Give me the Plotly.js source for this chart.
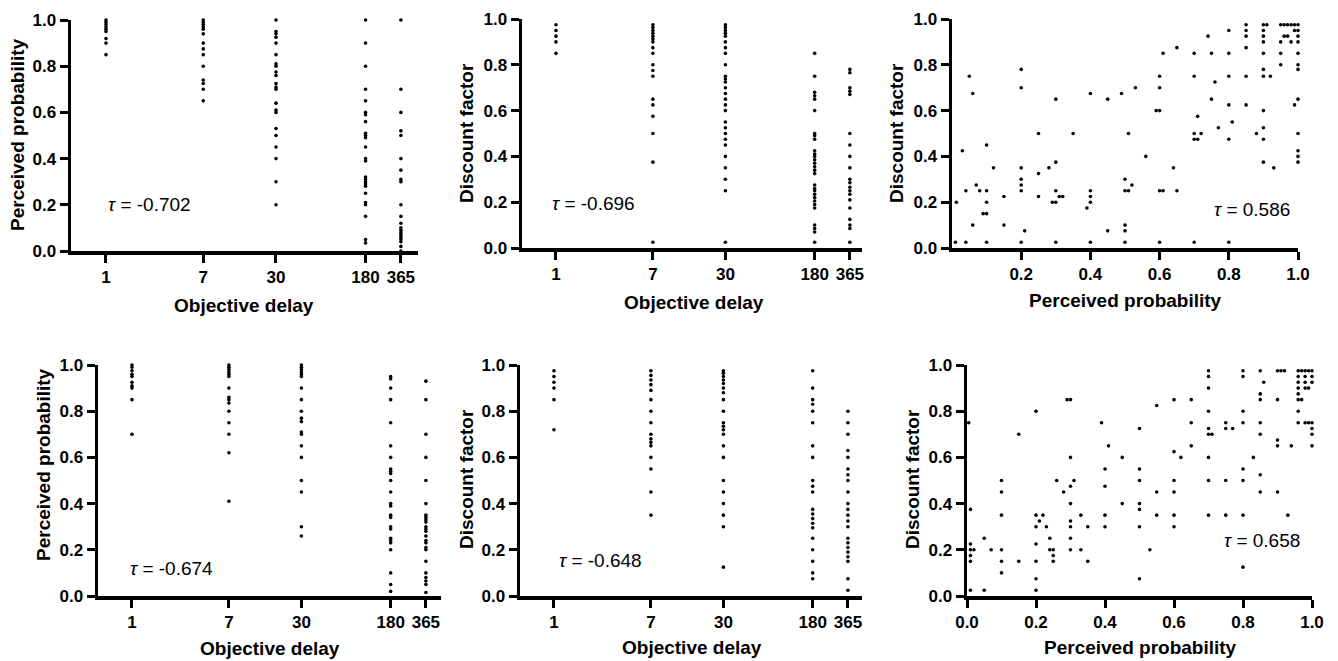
<!DOCTYPE html>
<html>
<head>
<meta charset="utf-8">
<script src="https://cdn.plot.ly/plotly-3.0.1.min.js"></script>
<style>html,body{margin:0;padding:0;background:#fff;}#chart{width:1338px;height:661px;}</style>
</head>
<body>
<div id="chart"></div>
<script>
// ---------- DATA ----------
const delays = [1, 7, 30, 180, 365];
const delayLabels = ["1", "7", "30", "180", "365"];
const unitTicks = [0, 0.2, 0.4, 0.6, 0.8, 1.0];
const unitTickLabels = ["0.0", "0.2", "0.4", "0.6", "0.8", "1.0"];

// Top row, left: perceived probability by objective delay (one list per delay)
const topProbByDelay = [
  [1.0, 0.99, 0.98, 0.97, 0.96, 0.95, 0.92, 0.90, 0.85],
  [1.0, 0.99, 0.98, 0.97, 0.96, 0.94, 0.90, 0.875, 0.85, 0.80, 0.74, 0.725, 0.70, 0.65],
  [1.0, 0.95, 0.94, 0.925, 0.90, 0.85, 0.81, 0.80, 0.775, 0.76, 0.725, 0.71, 0.70, 0.64, 0.61, 0.60, 0.53, 0.50, 0.45, 0.40, 0.30, 0.20],
  [1.0, 0.90, 0.80, 0.70, 0.65, 0.60, 0.59, 0.56, 0.51, 0.50, 0.49, 0.45, 0.40, 0.39, 0.32, 0.31, 0.30, 0.29, 0.28, 0.25, 0.21, 0.20, 0.15, 0.05, 0.035],
  [1.0, 0.70, 0.60, 0.52, 0.50, 0.40, 0.35, 0.31, 0.30, 0.20, 0.15, 0.12, 0.10, 0.09, 0.08, 0.07, 0.06, 0.05, 0.04, 0.02, 0.0]
];

// Top row, middle: discount factor by objective delay
const topDiscByDelay = [
  [0.975, 0.95, 0.925, 0.90, 0.85],
  [0.975, 0.963, 0.95, 0.938, 0.925, 0.913, 0.90, 0.875, 0.85, 0.80, 0.775, 0.75, 0.65, 0.625, 0.575, 0.50, 0.375, 0.025],
  [0.975, 0.963, 0.95, 0.938, 0.925, 0.90, 0.875, 0.85, 0.80, 0.75, 0.738, 0.725, 0.70, 0.675, 0.65, 0.625, 0.60, 0.55, 0.525, 0.50, 0.475, 0.45, 0.40, 0.35, 0.30, 0.25, 0.025],
  [0.85, 0.75, 0.68, 0.665, 0.65, 0.60, 0.50, 0.49, 0.475, 0.425, 0.41, 0.40, 0.385, 0.37, 0.355, 0.34, 0.325, 0.275, 0.26, 0.25, 0.235, 0.22, 0.205, 0.19, 0.175, 0.10, 0.085, 0.07, 0.025],
  [0.78, 0.765, 0.70, 0.685, 0.67, 0.50, 0.45, 0.40, 0.35, 0.30, 0.285, 0.265, 0.25, 0.235, 0.21, 0.175, 0.125, 0.10, 0.085, 0.025]
];

// Top row, right: discount factor vs perceived probability
const topScatterProb = [0.0125,0.01,0.04,0.03,0.04,0.05,0.06,0.06,0.07,0.08,0.09,0.10,0.10,0.10,0.10,0.10,0.12,0.15,0.15,
  0.20,0.20,0.20,0.20,0.20,0.20,0.20,0.21,0.25,0.25,0.25,0.28,0.30,0.30,0.30,0.29,0.30,0.31,0.32,0.30,0.35,0.39,
  0.40,0.40,0.40,0.40,0.40,0.45,0.45,0.49,0.50,0.50,0.51,0.50,0.50,0.50,0.51,0.52,0.53,0.56,
  0.61,0.60,0.60,0.59,0.60,0.60,0.61,0.60,0.64,0.65,0.65,
  0.70,0.70,0.70,0.70,0.71,0.71,0.72,0.70,0.74,0.75,0.75,0.76,0.77,
  0.80,0.80,0.80,0.80,0.80,0.81,0.80,0.85,0.85,0.85,0.85,0.85,0.85,0.88,
  0.90,0.91,0.90,0.90,0.90,0.90,0.90,0.90,0.92,0.90,0.90,0.90,0.90,0.93,
  0.95,0.96,0.97,0.98,0.99,1.0,0.96,0.97,0.95,0.95,0.95,0.98,0.99,0.99,
  1.0,1.0,1.0,1.0,1.0,1.0,1.0,1.0,1.0,1.0,1.0];
const topScatterDisc = [0.20,0.025,0.025,0.425,0.25,0.75,0.675,0.10,0.275,0.25,0.15,0.15,0.45,0.25,0.20,0.025,0.35,0.225,0.10,
  0.78,0.70,0.35,0.30,0.275,0.25,0.025,0.075,0.50,0.325,0.225,0.35,0.65,0.375,0.25,0.20,0.20,0.225,0.225,0.025,0.50,0.175,
  0.675,0.25,0.225,0.20,0.025,0.65,0.075,0.675,0.30,0.25,0.25,0.10,0.075,0.025,0.50,0.275,0.70,0.40,
  0.85,0.75,0.70,0.60,0.60,0.25,0.25,0.025,0.35,0.875,0.25,
  0.85,0.75,0.50,0.475,0.475,0.575,0.50,0.025,0.925,0.85,0.65,0.725,0.525,
  0.95,0.85,0.75,0.625,0.475,0.55,0.025,0.975,0.95,0.925,0.875,0.75,0.625,0.50,
  0.975,0.975,0.95,0.925,0.90,0.85,0.78,0.75,0.75,0.60,0.525,0.475,0.375,0.35,
  0.975,0.975,0.975,0.975,0.975,0.975,0.925,0.925,0.90,0.85,0.80,0.90,0.95,0.625,
  0.95,0.925,0.90,0.85,0.80,0.78,0.65,0.50,0.425,0.40,0.375];

// Bottom row, left: perceived probability by objective delay
const botProbByDelay = [
  [1.0, 0.99, 0.975, 0.96, 0.95, 0.925, 0.91, 0.90, 0.85, 0.70],
  [1.0, 0.99, 0.98, 0.97, 0.96, 0.95, 0.90, 0.86, 0.85, 0.835, 0.80, 0.75, 0.70, 0.62, 0.41],
  [1.0, 0.99, 0.98, 0.97, 0.96, 0.95, 0.90, 0.85, 0.80, 0.77, 0.755, 0.71, 0.70, 0.65, 0.60, 0.50, 0.45, 0.30, 0.26],
  [0.95, 0.94, 0.90, 0.85, 0.75, 0.65, 0.60, 0.55, 0.54, 0.53, 0.50, 0.45, 0.40, 0.39, 0.35, 0.34, 0.30, 0.29, 0.25, 0.24, 0.23, 0.20, 0.10, 0.05, 0.02],
  [0.93, 0.85, 0.70, 0.60, 0.50, 0.40, 0.35, 0.34, 0.33, 0.32, 0.30, 0.29, 0.28, 0.26, 0.24, 0.23, 0.21, 0.20, 0.15, 0.10, 0.08, 0.065, 0.05, 0.015]
];

// Bottom row, middle: discount factor by objective delay
const botDiscByDelay = [
  [0.975, 0.95, 0.925, 0.90, 0.85, 0.72],
  [0.975, 0.955, 0.935, 0.915, 0.89, 0.85, 0.80, 0.75, 0.70, 0.68, 0.665, 0.65, 0.60, 0.55, 0.45, 0.35],
  [0.975, 0.964, 0.95, 0.935, 0.92, 0.90, 0.88, 0.85, 0.80, 0.75, 0.735, 0.72, 0.70, 0.65, 0.60, 0.50, 0.45, 0.40, 0.35, 0.30, 0.125],
  [0.975, 0.90, 0.85, 0.83, 0.80, 0.75, 0.65, 0.60, 0.50, 0.475, 0.45, 0.375, 0.355, 0.335, 0.315, 0.295, 0.25, 0.20, 0.15, 0.10, 0.075],
  [0.80, 0.75, 0.70, 0.63, 0.60, 0.55, 0.525, 0.50, 0.45, 0.40, 0.375, 0.35, 0.325, 0.30, 0.25, 0.23, 0.21, 0.19, 0.17, 0.15, 0.075, 0.025]
];

// Bottom row, right: discount factor vs perceived probability
const botScatterProb = [0.005,0.01,0.01,0.01,0.01,0.01,0.02,0.01,0.05,0.05,0.07,
  0.10,0.10,0.10,0.10,0.10,0.10,0.15,0.15,
  0.20,0.20,0.20,0.20,0.20,0.20,0.20,0.21,0.22,0.23,0.24,0.24,0.25,0.25,0.25,0.26,0.28,
  0.29,0.30,0.30,0.30,0.30,0.30,0.30,0.30,0.30,0.31,0.33,0.33,0.35,0.35,0.39,
  0.40,0.40,0.40,0.40,0.41,0.45,0.45,
  0.50,0.50,0.50,0.50,0.50,0.50,0.50,0.53,0.55,0.55,0.55,
  0.60,0.60,0.60,0.60,0.60,0.60,0.62,0.65,0.65,0.65,
  0.70,0.70,0.70,0.70,0.70,0.70,0.71,0.70,0.70,0.70,0.75,0.75,0.77,0.75,0.75,
  0.80,0.80,0.80,0.80,0.80,0.80,0.80,0.80,0.83,
  0.85,0.85,0.85,0.85,0.85,0.85,0.85,0.86,
  0.90,0.91,0.92,0.90,0.90,0.90,0.90,0.93,0.94,
  0.96,0.97,0.96,0.96,0.96,0.96,0.96,0.97,0.96,0.96,0.98,0.99,
  0.98,0.99,1.0,0.98,1.0,0.98,1.0,0.98,0.99,1.0,1.0,1.0,1.0];
const botScatterDisc = [0.75,0.375,0.225,0.20,0.175,0.15,0.20,0.025,0.025,0.25,0.20,
  0.50,0.45,0.35,0.20,0.15,0.10,0.70,0.15,
  0.80,0.35,0.30,0.225,0.15,0.075,0.025,0.325,0.35,0.30,0.25,0.20,0.20,0.175,0.15,0.50,0.45,
  0.85,0.85,0.60,0.475,0.40,0.325,0.30,0.25,0.20,0.50,0.35,0.20,0.30,0.15,0.75,
  0.55,0.475,0.35,0.30,0.65,0.60,0.40,
  0.725,0.55,0.50,0.40,0.375,0.30,0.075,0.20,0.825,0.45,0.35,
  0.85,0.625,0.50,0.45,0.35,0.30,0.60,0.85,0.75,0.65,
  0.975,0.95,0.90,0.80,0.725,0.70,0.70,0.60,0.50,0.35,0.75,0.725,0.725,0.50,0.35,
  0.975,0.95,0.80,0.75,0.55,0.50,0.35,0.125,0.60,
  0.975,0.875,0.85,0.75,0.70,0.525,0.45,0.925,
  0.975,0.975,0.975,0.85,0.675,0.65,0.45,0.35,0.65,
  0.975,0.975,0.95,0.925,0.90,0.875,0.85,0.85,0.80,0.75,0.75,0.75,
  0.975,0.975,0.975,0.95,0.95,0.925,0.925,0.90,0.90,0.75,0.725,0.70,0.65];

const tauTexts = ["-0.702", "-0.696", "0.586", "-0.674", "-0.648", "0.658"];
const xTitles = ["Objective delay", "Objective delay", "Perceived probability", "Objective delay", "Objective delay", "Perceived probability"];
const yTitles = ["Perceived probability", "Discount factor", "Discount factor", "Perceived probability", "Discount factor", "Discount factor"];

// ---------- BUILD ----------
const W = 1338, H = 661;
const px = v => v / W;
const py = v => 1 - v / H;

function delayTrace(cols, xa, ya) {
  const x = [], y = [];
  cols.forEach((vals, i) => vals.forEach(v => { x.push(delays[i]); y.push(v); }));
  return {type: 'scatter', mode: 'markers', x: x, y: y, xaxis: xa, yaxis: ya,
    marker: {size: 3.6, color: '#000', line: {width: 0}}, cliponaxis: false, hoverinfo: 'skip', showlegend: false};
}
function pairTrace(xs, ys, xa, ya) {
  return {type: 'scatter', mode: 'markers', x: xs, y: ys, xaxis: xa, yaxis: ya,
    marker: {size: 3.6, color: '#000', line: {width: 0}}, cliponaxis: false, hoverinfo: 'skip', showlegend: false};
}

const data = [
  delayTrace(topProbByDelay, 'x', 'y'),
  delayTrace(topDiscByDelay, 'x2', 'y2'),
  pairTrace(topScatterProb, topScatterDisc, 'x3', 'y3'),
  delayTrace(botProbByDelay, 'x4', 'y4'),
  delayTrace(botDiscByDelay, 'x5', 'y5'),
  pairTrace(botScatterProb, botScatterDisc, 'x6', 'y6')
];

const tickFont = {family: 'Liberation Sans, Arial, sans-serif', size: 17, color: '#000', weight: 'bold'};
const base = {showline: true, linewidth: 3.5, linecolor: '#000', ticks: 'outside', ticklen: 8, tickwidth: 3,
  tickcolor: '#000', showgrid: false, zeroline: false, tickfont: tickFont, fixedrange: true};

// panel geometry in pixels: [xLeft, xRight, yTop, yBottom]
const panels = [
  {g: [71, 418, 20, 251], log: true, r: [-0.304, 2.711]},
  {g: [522, 862, 19, 248], log: true, r: [-0.296, 2.668]},
  {g: [952, 1298, 19, 248], log: false, r: [0, 1], tv: [0.2, 0.4, 0.6, 0.8, 1.0], tt: ["0.2", "0.4", "0.6", "0.8", "1.0"]},
  {g: [98, 441, 365, 596], log: true, r: [-0.296, 2.694]},
  {g: [520, 862, 365, 596], log: true, r: [-0.296, 2.685]},
  {g: [967, 1312, 365, 596], log: false, r: [0, 1], tv: unitTicks, tt: unitTickLabels}
];

const layout = {width: W, height: H, margin: {l: 0, r: 0, t: 0, b: 0}, paper_bgcolor: '#fff', plot_bgcolor: 'rgba(0,0,0,0)',
  showlegend: false, annotations: []};

panels.forEach((p, i) => {
  const n = i === 0 ? '' : String(i + 1);
  const xa = Object.assign({}, base, {domain: [px(p.g[0]), px(p.g[1])], anchor: 'y' + n});
  if (p.log) {
    Object.assign(xa, {type: 'log', range: p.r, tickmode: 'array', tickvals: delays, ticktext: delayLabels});
  } else {
    Object.assign(xa, {range: p.r, tickmode: 'array', tickvals: p.tv, ticktext: p.tt});
  }
  const ya = Object.assign({}, base, {domain: [py(p.g[3]), py(p.g[2])], anchor: 'x' + n, range: [0, 1],
    tickmode: 'array', tickvals: unitTicks, ticktext: unitTickLabels});
  layout['xaxis' + n] = xa;
  layout['yaxis' + n] = ya;
});

// tau annotations
const tauPos = [[0.0, 0.2], [-0.05, 0.196], [0.75, 0.166], [-0.035, 0.12], [0.03, 0.153], [0.74, 0.24]];
tauPos.forEach((t, i) => {
  const n = i === 0 ? '' : String(i + 1);
  layout.annotations.push({xref: 'x' + n, yref: 'y' + n, x: t[0], y: t[1], xanchor: 'left', yanchor: 'middle',
    showarrow: false, text: '<i>τ</i> = ' + tauTexts[i],
    font: {family: 'Liberation Sans, Arial, sans-serif', size: 19, color: '#000'}});
});

// axis titles
const titleFont = {family: 'Liberation Sans, Arial, sans-serif', size: 19, color: '#000', weight: 'bold'};
const xTitlePos = [[244, 305], [694, 302], [1125, 300], [270, 648], [692, 647], [1140, 647]];
const yTitlePos = [[17, 135], [467, 133], [897, 133], [43, 465], [466, 479], [912, 479]];
xTitlePos.forEach((p, i) => {
  layout.annotations.push({xref: 'paper', yref: 'paper', x: px(p[0]), y: py(p[1]), xanchor: 'center', yanchor: 'middle',
    showarrow: false, text: xTitles[i], font: titleFont});
});
yTitlePos.forEach((p, i) => {
  layout.annotations.push({xref: 'paper', yref: 'paper', x: px(p[0]), y: py(p[1]), xanchor: 'center', yanchor: 'middle',
    showarrow: false, textangle: -90, text: yTitles[i], font: titleFont});
});

Plotly.newPlot('chart', data, layout, {staticPlot: true, displayModeBar: false});
</script>
</body>
</html>
